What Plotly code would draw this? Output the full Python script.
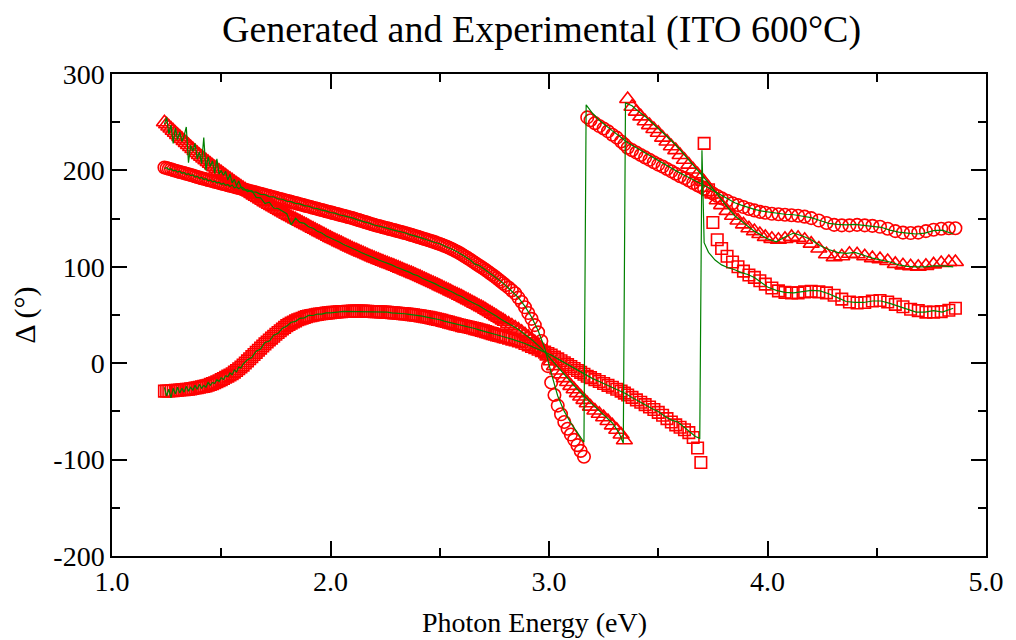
import plotly.graph_objects as go

# Photon energies (eV) of the model (generated) curves
energy_ev = [
    1.24, 1.25, 1.26, 1.27, 1.28, 1.29,
    1.30, 1.31, 1.32, 1.33, 1.34, 1.35, 1.36, 1.37, 1.38, 1.39,
    1.40, 1.41, 1.42, 1.43, 1.44, 1.45, 1.46, 1.47, 1.48, 1.49,
    1.50, 1.51, 1.52, 1.53, 1.54, 1.55, 1.56, 1.57, 1.58, 1.59,
    1.60, 1.61, 1.62, 1.63, 1.64, 1.65, 1.66, 1.67, 1.68, 1.69,
    1.70, 1.71, 1.72, 1.73, 1.74, 1.75, 1.76, 1.77, 1.78, 1.79,
    1.80, 1.81, 1.82, 1.83, 1.84, 1.85, 1.86, 1.87, 1.88, 1.89,
    1.90, 1.91, 1.92, 1.93, 1.94, 1.95, 1.96, 1.97, 1.98, 1.99,
    2.00, 2.01, 2.02, 2.03, 2.04, 2.05, 2.06, 2.07, 2.08, 2.09,
    2.10, 2.11, 2.12, 2.13, 2.14, 2.15, 2.16, 2.17, 2.18, 2.19,
    2.20, 2.21, 2.22, 2.23, 2.24, 2.25, 2.26, 2.27, 2.28, 2.29,
    2.30, 2.31, 2.32, 2.33, 2.34, 2.35, 2.36, 2.37, 2.38, 2.39,
    2.40, 2.41, 2.42, 2.43, 2.44, 2.45, 2.46, 2.47, 2.48, 2.49,
    2.50, 2.51, 2.52, 2.53, 2.54, 2.55, 2.56, 2.57, 2.58, 2.59,
    2.60, 2.61, 2.62, 2.63, 2.64, 2.65, 2.66, 2.67, 2.68, 2.69,
    2.70, 2.71, 2.72, 2.73, 2.74, 2.75, 2.76, 2.77, 2.78, 2.79,
    2.80,
    2.815, 2.83, 2.845, 2.86, 2.875, 2.89, 2.905, 2.92, 2.935, 2.95, 2.965, 2.98,
    2.995, 3.01, 3.025, 3.04, 3.055, 3.07, 3.085, 3.10, 3.115, 3.13, 3.145, 3.16,
    3.175, 3.19, 3.21, 3.23, 3.25, 3.27, 3.29, 3.31, 3.33, 3.345,
    3.36, 3.38, 3.40, 3.42, 3.44, 3.46, 3.48, 3.50, 3.52, 3.54, 3.56, 3.58,
    3.60, 3.62, 3.64, 3.66, 3.68, 3.695,
    3.71, 3.73, 3.75, 3.77, 3.79, 3.815, 3.84, 3.865, 3.89, 3.915, 3.94, 3.965, 3.99,
    4.02, 4.05, 4.08, 4.11, 4.14, 4.17, 4.20, 4.235, 4.27, 4.305, 4.34, 4.375, 4.41,
    4.445, 4.48, 4.515, 4.55, 4.585, 4.62, 4.655, 4.69, 4.725, 4.76, 4.795, 4.83, 4.86,
]

# Generated Delta (deg), first angle of incidence (circles)
gen_delta_a = [
    203.0, 202.4, 201.7, 201.1, 200.4, 199.7,
    199.0, 198.4, 197.8, 197.2, 196.6, 196.0, 195.3, 194.6, 193.9, 193.2,
    192.5, 191.9, 191.3, 190.7, 190.1, 189.5, 188.9, 188.3, 187.7, 187.1,
    186.5, 185.9, 185.3, 184.7, 184.1, 183.5, 182.9, 182.3, 181.7, 181.1,
    180.5, 179.9, 179.3, 178.7, 178.1, 177.5, 176.9, 176.3, 175.7, 175.1,
    174.5, 173.9, 173.3, 172.7, 172.1, 171.5, 170.9, 170.3, 169.7, 169.1,
    168.5, 167.9, 167.3, 166.7, 166.1, 165.5, 164.9, 164.3, 163.7, 163.1,
    162.5, 161.9, 161.3, 160.7, 160.1, 159.5, 158.9, 158.3, 157.7, 157.1,
    156.5, 155.9, 155.3, 154.7, 154.1, 153.5, 152.9, 152.3, 151.7, 151.1,
    150.5, 149.8, 149.1, 148.4, 147.7, 147.0, 146.3, 145.6, 144.9, 144.2,
    143.5, 142.9, 142.3, 141.7, 141.1, 140.5, 139.9, 139.3, 138.7, 138.1,
    137.5, 136.9, 136.3, 135.7, 135.1, 134.5, 133.8, 133.1, 132.4, 131.7,
    131.0, 130.3, 129.6, 128.9, 128.2, 127.5, 126.8, 126.1, 125.3, 124.5,
    123.7, 122.8, 121.9, 121.0, 120.0, 119.0, 117.9, 116.7, 115.5, 114.2,
    112.9, 111.5, 110.1, 108.7, 107.2, 105.7, 104.2, 102.7, 101.2, 99.7,
    98.2, 96.6, 95.0, 93.4, 91.8, 90.1, 88.4, 86.6, 84.8, 82.9,
    81.0,
    78.5, 75.5, 72.5, 68.0, 63.5, 58.0, 52.0, 46.0, 39.5, 32.0, 23.0, 12.0,
    -3.0, -20.0, -33.0, -44.0, -53.0, -61.0, -68.0, -74.0, -79.5, -85.0, -91.0, -97.0,
    255.0, 252.0, 249.0, 246.0, 243.5, 240.5, 237.0, 234.0, 230.0, 227.0,
    223.5, 221.0, 218.5, 216.0, 213.5, 211.0, 208.5, 206.0, 204.0, 201.5, 199.0, 196.5,
    194.0, 192.0, 189.5, 187.0, 184.5, 183.0,
    181.0, 178.5, 176.0, 173.5, 171.0, 168.5, 166.0, 164.0, 162.0, 160.0, 158.5, 157.0, 156.0,
    155.0, 154.5, 154.0, 153.5, 153.0, 152.0, 150.5, 148.0, 145.5, 143.5, 143.0, 143.0, 143.5,
    143.0, 142.5, 141.5, 139.5, 137.0, 135.5, 135.0, 135.5, 137.0, 138.5, 139.5, 140.0, 140.0,
]

# Generated Delta (deg), second angle of incidence (triangles)
gen_delta_b = [
    250.0, 247.8, 245.6, 243.4, 241.2, 239.0,
    236.9, 234.8, 232.7, 230.6, 228.5, 226.4, 224.3, 222.2, 220.1, 218.0,
    216.0, 214.1, 212.3, 210.5, 208.7, 206.9, 205.1, 203.3, 201.5, 199.7,
    198.0, 196.3, 194.6, 192.9, 191.2, 189.6, 188.0, 186.4, 184.8, 183.2,
    181.6, 180.1, 178.6, 177.1, 175.6, 174.1, 172.7, 171.3, 169.9, 168.5,
    167.1, 165.7, 164.4, 163.1, 161.8, 160.5, 159.2, 157.9, 156.6, 155.3,
    154.0, 152.8, 151.6, 150.4, 149.2, 148.0, 146.8, 145.6, 144.4, 143.2,
    142.0, 140.8, 139.6, 138.4, 137.2, 136.0, 134.8, 133.6, 132.4, 131.2,
    130.0, 128.9, 127.8, 126.7, 125.6, 124.5, 123.4, 122.3, 121.2, 120.1,
    119.0, 118.0, 117.0, 116.0, 115.0, 114.0, 113.0, 112.0, 111.0, 110.0,
    109.0, 108.1, 107.2, 106.3, 105.4, 104.5, 103.6, 102.7, 101.8, 100.9,
    100.0, 99.1, 98.1, 97.2, 96.2, 95.3, 94.3, 93.4, 92.4, 91.5,
    90.5, 89.5, 88.4, 87.4, 86.3, 85.3, 84.2, 83.2, 82.1, 81.1,
    80.0, 78.9, 77.8, 76.7, 75.6, 74.5, 73.4, 72.3, 71.2, 70.1,
    69.0, 67.8, 66.6, 65.4, 64.2, 63.0, 61.8, 60.6, 59.4, 58.2,
    57.0, 55.6, 54.2, 52.8, 51.4, 50.0, 48.6, 47.2, 45.8, 44.4,
    43.0,
    41.0, 39.0, 37.0, 35.0, 32.5, 30.0, 27.5, 25.0, 22.0, 19.0, 15.5, 11.5,
    7.0, 2.0, -3.0, -7.5, -11.5, -15.5, -19.5, -23.5, -27.0, -31.0, -34.5, -38.0,
    -41.5, -45.0, -49.0, -52.5, -56.0, -60.0, -64.5, -69.0, -74.0, -80.0,
    274.0, 266.0, 261.0, 256.0, 251.0, 247.0, 243.0, 239.0, 234.0, 230.0, 225.0, 221.0,
    216.0, 211.0, 206.0, 201.0, 196.0, 192.0,
    188.0, 182.0, 175.0, 169.0, 164.0, 158.0, 153.0, 148.0, 144.0, 140.0, 137.0, 134.0, 131.0,
    129.0, 128.0, 129.0, 131.0, 130.0, 128.0, 124.0, 119.0, 113.0, 110.0, 111.0, 113.5, 113.0,
    111.0, 109.0, 108.0, 106.0, 103.0, 101.5, 100.5, 100.0, 101.0, 102.5, 104.0, 105.0, 105.0,
]

# Generated Delta (deg), third angle of incidence (squares)
gen_delta_c = [
    -29.0, -28.9, -28.8, -28.6, -28.4, -28.2,
    -28.0, -27.8, -27.6, -27.4, -27.2, -27.0, -26.6, -26.2, -25.8, -25.4,
    -25.0, -24.5, -24.0, -23.5, -22.8, -22.0, -21.2, -20.3, -19.3, -18.2,
    -17.0, -15.8, -14.6, -13.4, -12.2, -11.0, -9.3, -7.6, -5.8, -3.9,
    -2.0, 0.2, 2.4, 4.6, 6.8, 9.0, 11.2, 13.4, 15.6, 17.8,
    20.0, 22.0, 24.0, 26.0, 28.0, 30.0, 31.8, 33.6, 35.4, 37.2,
    39.0, 40.3, 41.6, 42.8, 43.9, 45.0, 45.9, 46.7, 47.5, 48.3,
    49.0, 49.4, 49.8, 50.2, 50.6, 51.0, 51.3, 51.6, 51.9, 52.2,
    52.5, 52.7, 52.9, 53.1, 53.3, 53.5, 53.6, 53.7, 53.8, 53.9,
    54.0, 54.0, 54.0, 54.0, 54.0, 54.0, 53.9, 53.8, 53.7, 53.6,
    53.5, 53.4, 53.3, 53.2, 53.1, 53.0, 52.8, 52.6, 52.4, 52.2,
    52.0, 51.8, 51.6, 51.4, 51.2, 51.0, 50.7, 50.4, 50.1, 49.8,
    49.5, 49.1, 48.7, 48.3, 47.9, 47.5, 47.0, 46.5, 46.0, 45.5,
    45.0, 44.4, 43.8, 43.2, 42.6, 42.0, 41.4, 40.8, 40.2, 39.6,
    39.0, 38.5, 38.0, 37.5, 37.0, 36.5, 35.9, 35.3, 34.7, 34.1,
    33.5, 32.8, 32.1, 31.4, 30.7, 30.0, 29.4, 28.8, 28.2, 27.6,
    27.0,
    26.0, 25.0, 24.0, 23.0, 22.0, 20.5, 19.0, 17.5, 16.0, 14.5, 13.0, 11.5,
    10.0, 8.5, 6.5, 4.5, 2.5, 0.5, -1.5, -3.5, -5.5, -7.5, -9.5, -11.5,
    -13.5, -15.0, -17.0, -19.0, -21.0, -23.0, -25.0, -27.0, -29.0, -31.0,
    -33.0, -35.5, -38.0, -40.5, -43.0, -45.5, -48.0, -51.0, -54.0, -57.5, -61.0, -64.0,
    -66.5, -69.0, -72.0, -77.0, -88.0, -103.0,
    228.0, 180.0, 146.0, 128.0, 119.0, 111.0, 105.0, 100.0, 95.5, 91.5, 89.0, 85.5, 82.0,
    78.0, 75.0, 73.5, 73.0, 73.0, 74.0, 74.5, 74.0, 73.0, 70.5, 66.5, 63.5, 62.5,
    63.0, 64.5, 65.0, 63.5, 61.0, 58.5, 56.0, 54.5, 53.0, 53.0, 53.5, 55.0, 57.0,
]

# Photon energies (eV) of the measured (experimental) curves
exp_energy_ev = [
    1.24, 1.25, 1.26, 1.27, 1.28, 1.29, 1.30, 1.31, 1.32, 1.33,
    1.34, 1.35, 1.36, 1.37, 1.38, 1.39, 1.40, 1.41, 1.42, 1.43,
    1.44, 1.45, 1.46, 1.47, 1.48, 1.49, 1.50, 1.51, 1.52, 1.53,
    1.54, 1.55, 1.56, 1.57, 1.58, 1.59, 1.60,
    1.62, 1.64, 1.66, 1.68, 1.70, 1.72, 1.74, 1.76, 1.78, 1.80,
    1.82, 1.84, 1.86, 1.88, 1.90, 1.92, 1.94, 1.96, 1.98, 2.00,
    2.02, 2.04, 2.06, 2.08, 2.10, 2.12, 2.14, 2.16, 2.18, 2.20,
    2.22, 2.24, 2.26, 2.28, 2.30, 2.32, 2.34, 2.36, 2.38, 2.40,
    2.42, 2.44, 2.46, 2.48, 2.50, 2.52, 2.54, 2.56, 2.58, 2.60,
    2.62, 2.64, 2.66, 2.68, 2.70, 2.72, 2.74, 2.76, 2.78, 2.80,
    2.83, 2.86, 2.89, 2.92, 2.95, 2.98, 3.01, 3.04, 3.07, 3.10, 3.13, 3.16,
    3.17, 3.20, 3.23, 3.26, 3.29, 3.32, 3.34,
    3.35, 3.38, 3.41, 3.44, 3.47, 3.50, 3.53, 3.56, 3.59, 3.62, 3.65, 3.67, 3.69,
    3.70, 3.705, 3.71, 3.73, 3.76, 3.79, 3.82, 3.85, 3.88, 3.91, 3.94, 3.97, 4.00,
    4.04, 4.08, 4.12, 4.16, 4.20, 4.24, 4.28, 4.32, 4.36, 4.40, 4.44,
    4.48, 4.52, 4.56, 4.60, 4.64, 4.68, 4.72, 4.76, 4.80, 4.85,
]

exp_delta_a = [
    202.0, 202.8, 200.9, 201.5, 199.6, 200.3, 198.2, 199.1, 197.0, 197.9,
    195.8, 196.7, 194.6, 195.4, 193.1, 194.0, 191.8, 192.6, 190.5, 191.4,
    189.3, 190.2, 188.1, 188.9, 186.9, 187.8, 185.7, 186.6, 184.5, 185.4,
    183.3, 184.9, 181.8, 183.0, 180.9, 182.4, 179.7,
    179.8, 177.6, 177.4, 175.2, 174.9, 172.8, 172.6, 170.4, 170.1, 168.0,
    167.6, 165.8, 165.2, 163.4, 162.8, 161.0, 160.4, 158.7, 158.0, 156.3,
    155.6, 154.0, 153.2, 151.6, 150.8, 149.0, 147.9, 146.2, 145.1, 143.4,
    142.5, 141.0, 140.1, 138.6, 137.7, 136.2, 135.3, 133.7, 132.6, 130.9,
    129.8, 128.1, 127.0, 125.2, 123.9, 121.8, 120.2, 117.8, 115.7, 112.8,
    110.3, 107.1, 103.0, 101.3, 98.3, 95.1, 91.9, 88.5, 84.9, 81.0,
    75.0, 68.0, 59.0, 48.0, 34.0, 16.0, -10.0, -34.0, -50.0, -62.0, -72.0, -82.0,
    268.0, 259.0, 252.0, 246.0, 241.0, 236.0, 232.0,
    230.5, 226.0, 222.0, 218.0, 214.0, 210.0, 206.0, 202.0, 198.5, 195.0, 191.5, 189.0, 187.0,
    186.0, 185.5, 185.0, 182.0, 178.0, 174.0, 170.0, 166.5, 164.0, 161.5, 159.5, 158.0, 157.0,
    156.0, 154.5, 154.0, 152.5, 151.0, 148.0, 145.0, 144.0, 143.5, 144.0, 143.0,
    142.0, 141.0, 138.0, 136.0, 135.0, 134.0, 135.0, 137.5, 138.0, 134.0,
]

exp_delta_b = [
    248.0, 255.0, 238.0, 247.0, 228.0, 244.0, 232.0, 240.0, 230.0, 236.0,
    245.0, 208.0, 226.0, 220.0, 228.0, 212.0, 219.0, 207.0, 234.0, 200.0,
    214.0, 204.0, 210.0, 197.0, 212.0, 196.0, 200.0, 195.0, 199.0, 190.0,
    196.0, 187.0, 191.0, 184.0, 189.0, 183.0, 182.0,
    178.0, 179.0, 172.0, 171.5, 165.5, 167.0, 161.0, 160.5, 157.5, 155.0,
    143.5, 150.5, 146.0, 145.0, 141.5, 140.0, 136.8, 135.0, 132.0, 130.2,
    127.6, 125.8, 123.2, 121.4, 118.8, 117.2, 114.8, 113.2, 110.8, 109.2,
    107.0, 105.6, 103.4, 102.0, 99.8, 98.3, 96.0, 94.5, 92.2, 90.7,
    88.2, 86.5, 84.0, 82.3, 79.8, 78.0, 75.4, 73.6, 71.0, 69.2,
    66.4, 64.4, 61.6, 59.6, 56.8, 54.4, 51.2, 48.8, 45.6, 43.2,
    39.0, 35.0, 30.0, 24.5, 18.5, 12.0, 4.0, -4.0, -12.0, -20.0, -27.0, -34.0,
    -36.0, -43.0, -49.0, -55.0, -62.0, -72.0, -83.0,
    270.0, 267.0, 261.0, 256.0, 250.0, 244.0, 238.0, 231.0, 224.0, 216.0, 208.0, 203.0, 198.0,
    195.0, 194.0, 192.5, 187.0, 178.0, 169.0, 161.0, 153.0, 147.0, 142.0, 137.0, 133.0, 129.0,
    126.0, 131.0, 135.0, 132.0, 128.0, 122.0, 118.0, 115.0, 114.0, 115.0, 112.0,
    109.0, 107.0, 105.0, 102.0, 100.5, 100.0, 100.0, 101.0, 101.0, 100.0,
]

exp_delta_c = [
    -25.0, -34.0, -27.0, -36.0, -26.0, -32.0, -25.0, -31.0, -26.0, -30.0,
    -24.0, -29.0, -25.0, -28.0, -23.0, -27.0, -22.0, -26.0, -23.0, -25.0,
    -20.0, -23.0, -20.0, -21.0, -17.0, -19.0, -15.0, -17.0, -13.0, -14.0,
    -10.0, -12.0, -7.0, -9.0, -4.0, -5.0, -1.0,
    3.5, 6.0, 12.5, 14.8, 21.5, 23.0, 29.0, 31.0, 36.2, 38.5,
    42.5, 43.4, 46.6, 47.0, 49.6, 49.5, 51.0, 51.0, 52.2, 52.3,
    53.1, 53.2, 53.8, 53.7, 54.1, 53.9, 54.1, 53.8, 53.8, 53.4,
    53.4, 53.0, 52.9, 52.3, 52.1, 51.5, 51.3, 50.6, 50.2, 49.4,
    48.8, 47.8, 47.1, 45.9, 45.1, 43.7, 42.7, 41.3, 40.3, 38.9,
    38.1, 36.9, 36.0, 34.6, 33.6, 32.0, 30.8, 29.3, 28.3, 26.9,
    25.0, 23.0, 20.5, 17.5, 14.5, 11.5, 8.5, 4.5, 0.5, -3.5, -7.5, -11.5,
    -12.5, -16.0, -19.0, -22.0, -25.0, -28.0, -30.0,
    -31.5, -35.5, -39.0, -43.0, -47.0, -50.0, -55.0, -59.0, -61.0, -67.0, -73.0, -76.0, -78.0,
    221.0, 175.0, 125.0, 115.0, 107.0, 102.0, 99.0, 97.0, 94.0, 92.0, 89.0, 84.0, 79.0,
    75.5, 73.5, 73.0, 74.0, 75.5, 75.0, 72.0, 68.0, 64.0, 63.0, 63.0,
    64.5, 64.5, 62.0, 59.0, 56.0, 53.0, 53.0, 54.5, 53.0, 57.0,
]

x_tick_vals = [1, 2, 3, 4, 5]
x_tick_text = ["1.0", "2.0", "3.0", "4.0", "5.0"]
y_tick_vals = [-200, -100, 0, 100, 200, 300]
y_tick_text = ["-200", "-100", "0", "100", "200", "300"]

for name, ys in [("gen_delta_a", gen_delta_a), ("gen_delta_b", gen_delta_b),
                 ("gen_delta_c", gen_delta_c)]:
    if len(ys) != len(energy_ev):
        raise ValueError(f"{name}: {len(ys)} values vs {len(energy_ev)} energies")
for name, ys in [("exp_delta_a", exp_delta_a), ("exp_delta_b", exp_delta_b),
                 ("exp_delta_c", exp_delta_c)]:
    if len(ys) != len(exp_energy_ev):
        raise ValueError(f"{name}: {len(ys)} values vs {len(exp_energy_ev)} energies")

RED = "#ff0000"
GREEN = "#008000"
FONT = "Liberation Serif, Times New Roman, serif"

fig = go.Figure()

# Model curves as open markers
for ys, sym, size in [(gen_delta_a, "circle-open", 12.5),
                      (gen_delta_b, "triangle-up-open", 14),
                      (gen_delta_c, "square-open", 11.5)]:
    fig.add_trace(go.Scatter(
        x=energy_ev, y=ys, mode="markers",
        marker=dict(symbol=sym, size=size, color=RED, line=dict(color=RED, width=1.6)),
        showlegend=False, hoverinfo="x+y",
    ))

# Measured curves as thin green lines on top
for ys in [exp_delta_a, exp_delta_b, exp_delta_c]:
    fig.add_trace(go.Scatter(
        x=exp_energy_ev, y=ys, mode="lines",
        line=dict(color=GREEN, width=1.2),
        showlegend=False, hoverinfo="x+y",
    ))

axis_common = dict(
    showline=True, linecolor="black", linewidth=1.5, mirror="ticks",
    ticks="inside", ticklen=15, tickwidth=1.5, tickcolor="black",
    showgrid=False, zeroline=False,
    tickfont=dict(family=FONT, size=28, color="black"),
)

fig.update_layout(
    width=1016, height=640,
    margin=dict(l=112, r=23, t=74, b=84),
    paper_bgcolor="white", plot_bgcolor="white",
    font=dict(family=FONT, color="black"),
    title=dict(text="Generated and Experimental (ITO 600°C)",
               x=0.533, xref="container", xanchor="center",
               y=0.955, yref="container", yanchor="middle",
               font=dict(family=FONT, size=38, color="black")),
    xaxis=dict(range=[1, 5], tickmode="array", tickvals=x_tick_vals, ticktext=x_tick_text,
               minor=dict(tickvals=[1.5, 2.5, 3.5, 4.5], ticks="inside", ticklen=8,
                          tickwidth=1.5, tickcolor="black"),
               **axis_common),
    yaxis=dict(range=[-200, 300], tickmode="array", tickvals=y_tick_vals, ticktext=y_tick_text,
               minor=dict(tickvals=[-150, -50, 50, 150, 250], ticks="inside", ticklen=8,
                          tickwidth=1.5, tickcolor="black"),
               **axis_common),
    annotations=[
        dict(text="Photon Energy (eV)", xref="paper", yref="paper",
             x=0.4835, y=-0.137, xanchor="center", yanchor="middle", showarrow=False,
             font=dict(family=FONT, size=28, color="black")),
        dict(text="Δ (°)", xref="paper", yref="paper",
             x=-0.0999, y=0.5, xanchor="center", yanchor="middle", showarrow=False,
             textangle=-90, font=dict(family=FONT, size=30, color="black")),
    ],
)

fig.write_html("out.html")
